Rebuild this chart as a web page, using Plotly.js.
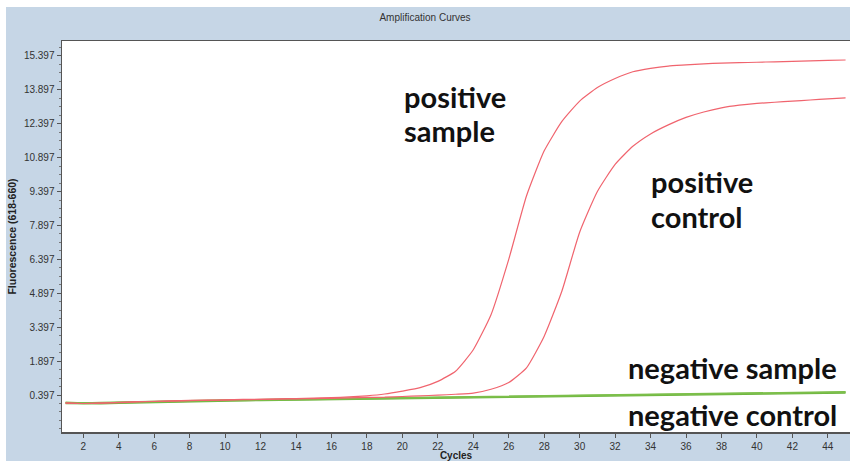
<!DOCTYPE html>
<html>
<head>
<meta charset="utf-8">
<script src="https://cdn.plot.ly/plotly-3.0.1.min.js"></script>
<style>
  html, body { margin: 0; padding: 0; background: #ffffff; }
  #chart { position: absolute; left: 6px; top: 7px; width: 844px; height: 454px; }
</style>
</head>
<body>
<div id="chart"></div>
<script>
const cycles = [1,2,3,4,5,6,7,8,9,10,11,12,13,14,15,16,17,18,19,20,21,22,23,24,25,26,27,28,29,30,31,32,33,34,35,36,37,38,39,40,41,42,43,44,45];

const positiveSample = [0.05,0.02,0.04,0.07,0.10,0.12,0.14,0.16,0.17,0.18,0.20,0.21,0.23,0.24,0.26,0.28,0.31,0.36,0.44,0.57,0.72,1.00,1.45,2.40,3.95,6.40,9.20,11.20,12.50,13.40,14.00,14.40,14.70,14.85,14.95,15.00,15.05,15.08,15.10,15.12,15.14,15.16,15.18,15.20,15.22];

const positiveControl = [0.04,0.02,0.04,0.06,0.09,0.11,0.13,0.15,0.16,0.17,0.19,0.20,0.21,0.23,0.24,0.25,0.27,0.29,0.30,0.33,0.36,0.39,0.43,0.48,0.65,0.95,1.60,3.00,5.00,7.60,9.40,10.60,11.40,11.95,12.35,12.68,12.92,13.10,13.22,13.30,13.35,13.40,13.45,13.50,13.54];

const negativeSample = [0.06,0.03,0.05,0.07,0.09,0.10,0.12,0.15,0.16,0.16,0.17,0.18,0.20,0.21,0.21,0.23,0.23,0.24,0.25,0.26,0.28,0.29,0.30,0.31,0.31,0.33,0.34,0.35,0.36,0.37,0.38,0.39,0.40,0.41,0.42,0.43,0.44,0.45,0.46,0.47,0.48,0.49,0.50,0.52,0.53];

const negativeControl = [0.04,0.02,0.03,0.05,0.07,0.09,0.11,0.13,0.14,0.15,0.16,0.17,0.18,0.19,0.20,0.21,0.22,0.22,0.23,0.24,0.25,0.26,0.27,0.28,0.29,0.30,0.31,0.32,0.33,0.34,0.35,0.36,0.37,0.38,0.39,0.40,0.41,0.42,0.43,0.44,0.45,0.46,0.47,0.49,0.50];

const yTickVals = [0.397,1.897,3.397,4.897,6.397,7.897,9.397,10.897,12.397,13.897,15.397];
const yTickText = ["0.397","1.897","3.397","4.897","6.397","7.897","9.397","10.897","12.397","13.897","15.397"];
const xTickVals = [2,4,6,8,10,12,14,16,18,20,22,24,26,28,30,32,34,36,38,40,42,44];

const labels = [
  {text: "positive", x: 20.0, y: 13.62},
  {text: "sample", x: 20.0, y: 12.1},
  {text: "positive", x: 33.9, y: 9.85},
  {text: "control", x: 33.9, y: 8.3},
  {text: "negative sample", x: 32.6, y: 1.6},
  {text: "negative control", x: 32.6, y: -0.45}
];

const red = "#f0646e";
const green = "#6cb33f";

const traces = [
  {x: cycles, y: negativeControl, mode: "lines", line: {color: green, width: 2.2}},
  {x: cycles, y: negativeSample, mode: "lines", line: {color: "#7cbf4a", width: 2}},
  {x: cycles, y: positiveControl, mode: "lines", line: {color: red, width: 1.2, shape: "spline", smoothing: 0.5}},
  {x: cycles, y: positiveSample, mode: "lines", line: {color: red, width: 1.2, shape: "spline", smoothing: 0.5}}
];

const layout = {
  width: 844,
  height: 454,
  paper_bgcolor: "#c6d6e6",
  plot_bgcolor: "#ffffff",
  showlegend: false,
  margin: {l: 56, r: 0, t: 34, b: 29},
  title: {
    text: "Amplification Curves",
    font: {family: "Liberation Sans, Arial, sans-serif", size: 10, color: "#333333"},
    xref: "container", x: 0.4965, xanchor: "center",
    yref: "container", y: 0.976, yanchor: "middle"
  },
  xaxis: {
    range: [0.8, 45.25],
    tickvals: xTickVals,
    ticks: "outside", ticklen: 4, tickcolor: "#555555",
    tickfont: {family: "Liberation Sans, Arial, sans-serif", size: 10, color: "#333333"},
    showgrid: false, zeroline: false,
    showline: true, linecolor: "#555555", linewidth: 1.5, mirror: true,
    title: {text: "<b>Cycles</b>", font: {family: "Liberation Sans, Arial, sans-serif", size: 10, color: "#222222"}, standoff: 0}
  },
  yaxis: {
    range: [-1.24, 16.06],
    tickvals: yTickVals, ticktext: yTickText,
    ticks: "outside", ticklen: 4, tickcolor: "#555555",
    tickfont: {family: "Liberation Sans, Arial, sans-serif", size: 10, color: "#333333"},
    minor: {dtick: 0.375, tick0: 0.397, ticks: "outside", ticklen: 2, tickcolor: "#777777", showgrid: false},
    showgrid: false, zeroline: false,
    showline: true, linecolor: "#555555", linewidth: 1.5,
    title: {text: "<b>Fluorescence (618-660)</b>", font: {family: "Liberation Sans, Arial, sans-serif", size: 10.5, color: "#222222"}, standoff: 5}
  },
  annotations: labels.map(l => ({
    text: "<b>" + l.text + "</b>", x: l.x, y: l.y, xref: "x", yref: "y",
    xanchor: "left", yanchor: "middle", showarrow: false,
    font: {family: "Lato, sans-serif", size: 29, color: "#111111"}
  }))
};

Plotly.newPlot("chart", traces, layout, {displayModeBar: false, staticPlot: true});
</script>
</body>
</html>
